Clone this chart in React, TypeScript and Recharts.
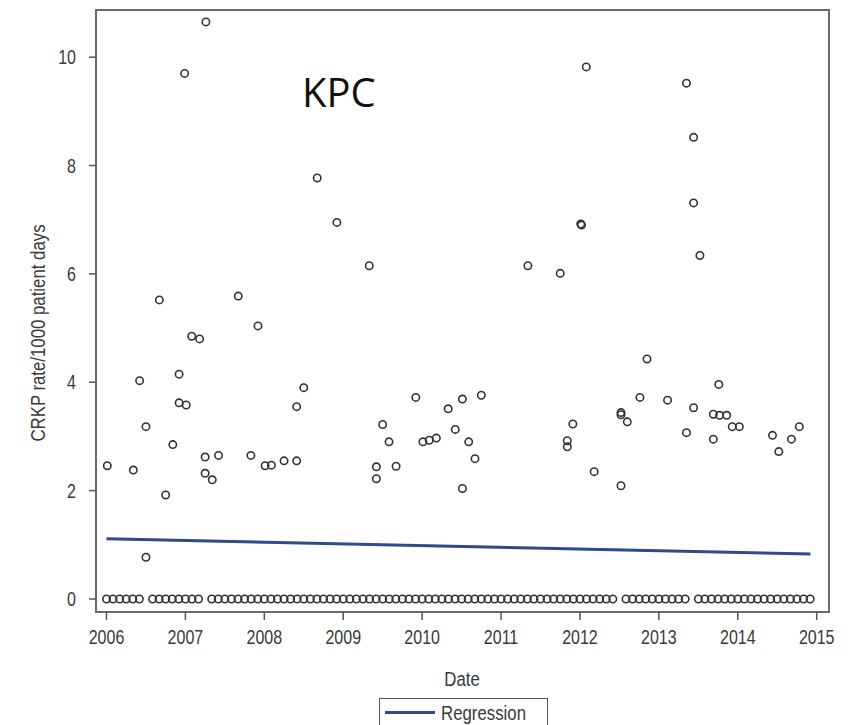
import React from 'react';
import { ScatterChart, Scatter, XAxis, YAxis, ReferenceArea, Legend } from 'recharts';

// Tick labels
const xTicks = [2006, 2007, 2008, 2009, 2010, 2011, 2012, 2013, 2014, 2015];
const yTicks = [0, 2, 4, 6, 8, 10];

// Months (0 = Jan 2006) with a zero CRKP rate
const zeroMonths = [
  0, 1, 2, 3, 4, 5,
  7, 8, 9, 10, 11, 12, 13, 14,
  16, 17, 18, 19, 20, 21, 22, 23, 24, 25, 26, 27, 28, 29, 30, 31, 32, 33, 34, 35, 36, 37, 38, 39,
  40, 41, 42, 43, 44, 45, 46, 47, 48, 49, 50, 51, 52, 53, 54, 55, 56, 57, 58, 59, 60, 61, 62, 63,
  64, 65, 66, 67, 68, 69, 70, 71, 72, 73, 74, 75, 76, 77,
  79, 80, 81, 82, 83, 84, 85, 86, 87, 88,
  90, 91, 92, 93, 94, 95, 96, 97, 98, 99, 100, 101, 102, 103, 104, 105, 106, 107,
];

// Non-zero observations (decimal year, rate per 1000 patient days)
const kpcDates = [
  2006.01, 2006.34, 2006.42, 2006.50, 2006.50, 2006.67, 2006.75, 2006.84, 2006.92, 2006.92,
  2006.99, 2007.01, 2007.08, 2007.18, 2007.25, 2007.25, 2007.26, 2007.34, 2007.42, 2007.67,
  2007.83, 2007.92, 2008.01, 2008.09, 2008.25, 2008.41, 2008.41, 2008.50, 2008.67, 2008.92,
  2009.33, 2009.42, 2009.42, 2009.50, 2009.58, 2009.67, 2009.92, 2010.01, 2010.09, 2010.18,
  2010.33, 2010.42, 2010.51, 2010.51, 2010.59, 2010.67, 2010.75, 2011.34, 2011.75, 2011.84,
  2011.84, 2011.91, 2012.01, 2012.02, 2012.08, 2012.18, 2012.52, 2012.52, 2012.52, 2012.60,
  2012.76, 2012.85, 2013.11, 2013.35, 2013.35, 2013.44, 2013.44, 2013.44, 2013.52, 2013.69,
  2013.69, 2013.76, 2013.77, 2013.86, 2013.93, 2014.02, 2014.44, 2014.52, 2014.68, 2014.78,
];
const kpcRates = [
  2.46, 2.38, 4.03, 3.18, 0.77, 5.52, 1.92, 2.85, 4.15, 3.62,
  9.70, 3.58, 4.85, 4.80, 2.62, 2.32, 10.65, 2.20, 2.65, 5.59,
  2.65, 5.04, 2.46, 2.47, 2.55, 2.55, 3.55, 3.90, 7.77, 6.95,
  6.15, 2.44, 2.22, 3.22, 2.90, 2.45, 3.72, 2.90, 2.93, 2.97,
  3.51, 3.13, 3.69, 2.04, 2.90, 2.59, 3.76, 6.15, 6.01, 2.92,
  2.81, 3.23, 6.92, 6.90, 9.82, 2.35, 3.44, 3.40, 2.09, 3.27,
  3.72, 4.43, 3.67, 9.52, 3.07, 8.52, 7.31, 3.53, 6.34, 3.41,
  2.95, 3.96, 3.39, 3.39, 3.18, 3.18, 3.02, 2.72, 2.95, 3.18,
];

// Regression line end points
const regressionDates = [2006.0, 2014.92];
const regressionRates = [1.11, 0.83];

const zeroData = zeroMonths.map((m) => ({ date: 2006 + m / 12, rate: 0 }));
const pointData = kpcDates.map((d, i) => ({ date: d, rate: kpcRates[i] }));
const regressionData = regressionDates.map((d, i) => ({ date: d, rate: regressionRates[i] }));

const X_MIN = 2005.867;
const X_MAX = 2015.156;
const Y_MIN = -0.24;
const Y_MAX = 10.87;

const FONT = "'Liberation Sans', Arial, sans-serif";
const TEXT = '#3a3a3a';
const BLUE = '#2f4b8a';
const NARROW = 0.8;

const Ring = (props: any) => {
  const { cx, cy } = props;
  if (cx == null || cy == null) return <g />;
  return <circle cx={cx} cy={cy} r={3.7} fill="none" stroke="#333" strokeWidth={1.6} />;
};

const NoShape = () => <g />;

const XTick = (props: any) => {
  const { x, y, payload } = props;
  return (
    <g transform={`translate(${x},${y})`}>
      <text transform={`scale(${NARROW},1)`} textAnchor="middle" dy="0.71em" fontFamily={FONT} fontSize={20} fill={TEXT}>
        {payload.value}
      </text>
    </g>
  );
};

const YTick = (props: any) => {
  const { x, y, payload } = props;
  return (
    <g transform={`translate(${x},${y})`}>
      <text transform={`scale(${NARROW},1)`} textAnchor="end" dy="0.35em" fontFamily={FONT} fontSize={20} fill={TEXT}>
        {payload.value}
      </text>
    </g>
  );
};

const YLabel = () => (
  <g transform="translate(38,333) rotate(-90)">
    <text transform={`scale(${NARROW},1)`} textAnchor="middle" dy="0.35em" fontFamily={FONT} fontSize={21} fill={TEXT}>
      CRKP rate/1000 patient days
    </text>
  </g>
);

const DateLabel = () => (
  <g transform="translate(462,686)">
    <text transform={`scale(${NARROW},1)`} textAnchor="middle" fontFamily={FONT} fontSize={21} fill={TEXT}>
      Date
    </text>
  </g>
);

const LegendBox = () => (
  <div style={{ height: 27, position: 'relative' }}>
    <div
      style={{
        position: 'absolute',
        left: 379,
        top: 0,
        width: 169,
        height: 29,
        boxSizing: 'border-box',
        border: '1.5px solid #555',
        display: 'flex',
        alignItems: 'center',
        fontFamily: FONT,
        fontSize: 21,
        color: TEXT,
      }}
    >
      <div style={{ width: 64, height: 3, background: BLUE, marginLeft: 5, marginRight: 6 }} />
      <span style={{ display: 'inline-block', transform: `scaleX(${NARROW})`, transformOrigin: 'left center', whiteSpace: 'nowrap' }}>
        Regression
      </span>
    </div>
  </div>
);

export default function App() {
  return (
    <div style={{ position: 'absolute', left: 0, top: 0, width: 848, height: 725, background: '#fff', overflow: 'hidden' }}>
      <ScatterChart width={848} height={725} margin={{ top: 10, right: 19, bottom: 0, left: 0 }}>
        <XAxis
          type="number"
          dataKey="date"
          domain={[X_MIN, X_MAX]}
          ticks={xTicks}
          allowDataOverflow
          height={86}
          axisLine={{ stroke: '#6b6b6b', strokeWidth: 2 }}
          tickLine={{ stroke: '#555', strokeWidth: 1.5 }}
          tickSize={8}
          tickMargin={10}
          tick={XTick}
          label={DateLabel}
        />
        <YAxis
          type="number"
          dataKey="rate"
          domain={[Y_MIN, Y_MAX]}
          ticks={yTicks}
          allowDataOverflow
          width={96}
          axisLine={{ stroke: '#6b6b6b', strokeWidth: 2 }}
          tickLine={{ stroke: '#555', strokeWidth: 1.5 }}
          tickSize={7}
          tickMargin={13}
          tick={YTick}
          label={YLabel}
        />
        <ReferenceArea
          x1={X_MIN}
          x2={X_MAX}
          y1={Y_MIN}
          y2={Y_MAX}
          fill="none"
          fillOpacity={0}
          stroke="#6b6b6b"
          strokeWidth={2}
        />
        <Scatter name="Zero" data={zeroData} shape={Ring} isAnimationActive={false} legendType="none" />
        <Scatter name="Rate" data={pointData} shape={Ring} isAnimationActive={false} legendType="none" />
        <Scatter
          name="Regression"
          data={regressionData}
          shape={NoShape}
          line={{ stroke: BLUE, strokeWidth: 3 }}
          lineType="joint"
          isAnimationActive={false}
        />
        <Legend verticalAlign="bottom" height={27} content={LegendBox} />
      </ScatterChart>
      <svg
        width={848}
        height={725}
        style={{ position: 'absolute', left: 0, top: 0, pointerEvents: 'none' }}
      >
        <text x={302} y={107} fontFamily="'Open Sans', Lato, sans-serif" fontSize={40} fill="#111">
          KPC
        </text>
      </svg>
    </div>
  );
}
